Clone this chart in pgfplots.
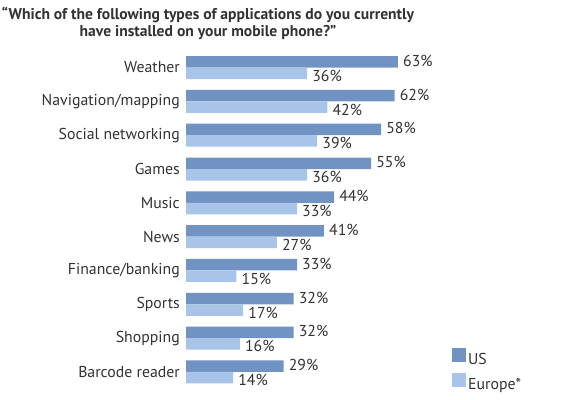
\documentclass[border=0pt]{standalone}
\usepackage{pgfplots}
\pgfplotsset{compat=1.18}
\usepackage{fontspec}
\setmainfont{PT Sans}
\definecolor{usc}{RGB}{112,147,196}
\definecolor{euc}{RGB}{168,197,233}
\definecolor{txt}{RGB}{50,50,50}
\begin{document}
\begin{tikzpicture}[x=1pt,y=1pt]
\useasboundingbox (0,0) rectangle (561,399);
\node[font=\bfseries\fontsize{15.6}{17.5}\selectfont, text=txt, align=center, anchor=north] at (208,395.5) {“Which of the following types of applications do you currently\\have installed on your mobile phone?”};
\begin{axis}[
  at={(186pt,10.1pt)}, anchor=south west, scale only axis,
  width=370.15pt, height=338.3pt,
  xmin=0, xmax=110, ymin=-0.5, ymax=9.5,
  xbar, bar width=11.5pt,
  axis line style={draw=none},
  xtick=\empty, major tick length=0pt,
  ytick={0,...,9},
  yticklabels={Barcode reader,Shopping,Sports,Finance/banking,News,Music,Games,Social networking,Navigation/mapping,Weather},
  y tick label style={font=\fontsize{15.8}{17}\selectfont, text=txt, inner sep=0pt, xshift=-6pt},
  point meta=x,
  /pgf/number format/assume math mode=true,
  nodes near coords={\pgfmathprintnumber{\pgfplotspointmeta}\%},
  nodes near coords style={font=\fontsize{15.8}{17}\selectfont, text=txt, anchor=west, inner sep=0pt, xshift=5pt},
  legend style={at={(0.7186,0.122)}, anchor=north west, draw=none, fill=none, inner sep=0pt,
    font=\fontsize{15.8}{17}\selectfont, text=txt, row sep=5pt, cells={anchor=west}},
  legend image code/.code={\fill[#1] (0pt,-2.5pt) rectangle (14pt,11.5pt);},
  clip=false,
]
\addplot[fill=usc, draw=none, bar shift=5.75pt, every node near coord/.append style={yshift=1pt}] coordinates {
(29,0) (32,1) (32,2) (33,3) (41,4) (44,5) (55,6) (58,7) (62,8) (63,9)};
\addplot[fill=euc, draw=none, bar shift=-5.75pt, every node near coord/.append style={yshift=-2.5pt}] coordinates {
(14,0) (16,1) (17,2) (15,3) (27,4) (33,5) (36,6) (39,7) (42,8) (36,9)};
\legend{US,Europe*}
\end{axis}
\end{tikzpicture}
\end{document}
